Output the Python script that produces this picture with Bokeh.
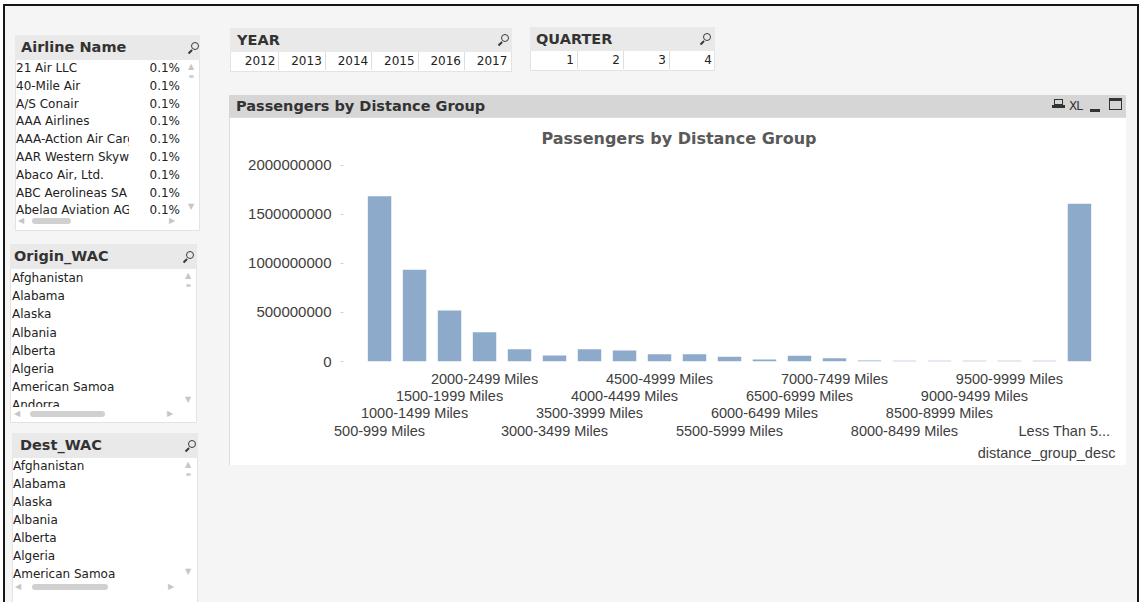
from html import escape
from bokeh.plotting import figure
from bokeh.models import (FactorRange, Range1d, CategoricalAxis, FixedTicker,
                          NumeralTickFormatter, Title, Div, ColumnDataSource)
from bokeh.layouts import row, column
from bokeh.embed import file_html
from bokeh.resources import INLINE

# ---------------- data ----------------
categories = ["500-999 Miles", "1000-1499 Miles", "1500-1999 Miles", "2000-2499 Miles",
              "2500-2999 Miles", "3000-3499 Miles", "3500-3999 Miles", "4000-4499 Miles",
              "4500-4999 Miles", "5000-5499 Miles", "5500-5999 Miles", "6000-6499 Miles",
              "6500-6999 Miles", "7000-7499 Miles", "7500-7999 Miles", "8000-8499 Miles",
              "8500-8999 Miles", "9000-9499 Miles", "9500-9999 Miles", "10000-10499 Miles",
              "Less Than 500 Miles"]
passengers = [1684000000, 936000000, 520000000, 299000000, 126000000, 61000000,
              126000000, 112000000, 75000000, 75000000, 48000000, 20000000,
              58000000, 34000000, 10000000, 8000000, 8000000, 8000000, 8000000,
              8000000, 1609000000]
# staggered label row of each category (1 = top row, 0 = label not shown)
label_rows = [4, 3, 2, 1, 0, 4, 3, 2, 1, 0, 4, 3, 2, 1, 0, 4, 3, 2, 1, 0, 4]
# truncated last label (non-breaking spaces keep it clear of the panel's right edge)
label_text = {"Less Than 500 Miles": "Less Than 5..." + "\u00a0" * 4}
y_ticks = [0, 500000000, 1000000000, 1500000000, 2000000000]

airline_names = ["21 Air LLC", "40-Mile Air", "A/S Conair", "AAA Airlines",
                 "AAA-Action Air Cargo", "AAR Western Skyways", "Abaco Air, Ltd.",
                 "ABC Aerolineas SA", "Abelag Aviation AG"]
airline_pct = ["0.1%", "0.1%", "0.1%", "0.1%", "0.1%", "0.1%", "0.1%", "0.1%", "0.1%"]
origin_names = ["Afghanistan", "Alabama", "Alaska", "Albania", "Alberta", "Algeria",
                "American Samoa", "Andorra"]
dest_names = ["Afghanistan", "Alabama", "Alaska", "Albania", "Alberta", "Algeria",
              "American Samoa"]
years = ["2012", "2013", "2014", "2015", "2016", "2017"]
quarters = ["1", "2", "3", "4"]

# ---------------- html helpers for the dashboard chrome ----------------
FONT = "'DejaVu Sans', sans-serif"
BG = "#f5f5f5"
DARK = "#161616"


def rect(x, y, w, h, style):
    return (f'<div style="position:absolute;left:{x}px;top:{y}px;width:{w}px;'
            f'height:{h}px;{style}"></div>')


def txt(x, y, w, h, s, style):
    return (f'<div style="position:absolute;left:{x}px;top:{y}px;width:{w}px;height:{h}px;'
            f'white-space:nowrap;overflow:hidden;{style};line-height:{h}px;">{escape(s)}</div>')


def magnifier(cx, cy):
    return (rect(cx - 2, cy - 6, 8, 8,
                 "border:1.7px solid #3a3a3a;border-radius:50%;box-sizing:border-box;")
            + rect(cx - 6, cy + 0.5, 5, 1.8,
                   "background:#3a3a3a;transform:rotate(-45deg);transform-origin:right center;"))


def arrow(cx, cy, ch):
    return txt(cx - 5, cy - 5, 10, 10, ch,
               f"font:8px {FONT};color:#c6c6c6;text-align:center")


def listbox(ox, oy, bx, by, bw, bh, title, tdx, icon_cx, items, pcts, row0, rh,
            list_bottom, name_x, name_w, pct_right, vs_cx, hs_cy, hs_l, th0, th1, hs_r):
    h = []
    x, y = bx - ox, by - oy
    h.append(rect(x, y, bw, bh, "background:#fff;border:1px solid #e3e3e3;box-sizing:border-box;"))
    h.append(rect(x, y, bw, 25, "background:#e9e9e9;"))
    h.append(txt(x + tdx, y, bw - 30, 25, title, f"font:bold 14.5px {FONT};color:#333"))
    h.append(magnifier(icon_cx - ox, by + 13 - oy))
    h.append(f'<div style="position:absolute;left:{x}px;top:{row0 - oy}px;width:{bw}px;'
             f'height:{list_bottom - row0}px;overflow:hidden;">')
    for i, name in enumerate(items):
        ty = round(i * rh, 2)
        h.append(txt(name_x - bx, ty, name_w, rh, name, f"font:12px {FONT};color:#222"))
        if pcts:
            h.append(txt(pct_right - bx - 40, ty, 40, rh, pcts[i],
                         f"font:12px {FONT};color:#222;text-align:right"))
    h.append('</div>')
    h.append(arrow(vs_cx - ox, row0 + 7 - oy, "\u25b2"))
    h.append(rect(vs_cx - ox - 2, row0 + 15 - oy, 5, 3, "background:#d2d2d2;border-radius:2px;"))
    h.append(arrow(vs_cx - ox, list_bottom - 7 - oy, "\u25bc"))
    h.append(arrow(hs_l - ox, hs_cy - oy, "\u25c0"))
    h.append(rect(th0 - ox, hs_cy - 3 - oy, th1 - th0, 6, "background:#d0d0d0;border-radius:3px;"))
    h.append(arrow(hs_r - ox, hs_cy - oy, "\u25b6"))
    return "".join(h)


def cellbox(ox, oy, bx, by, bw, title, tdx, icon_cx, values, c0, cw, cy0, cy1):
    h = []
    x, y = bx - ox, by - oy
    h.append(rect(x, y, bw, cy1 - by + 2, "background:#fff;border:1px solid #e3e3e3;box-sizing:border-box;"))
    h.append(rect(x, y, bw, cy0 - by, "background:#e9e9e9;"))
    h.append(txt(x + tdx, y, bw - 30, cy0 - by, title, f"font:bold 14.5px {FONT};color:#333"))
    h.append(magnifier(icon_cx - ox, by + 12 - oy))
    for i, v in enumerate(values):
        cx = c0 + i * cw
        h.append(txt(round(cx - ox, 1), cy0 - oy, round(cw - 3, 1), cy1 - cy0, v,
                     f"font:12px {FONT};color:#222;text-align:right"))
        if i < len(values) - 1:
            h.append(rect(round(cx + cw - ox, 1), cy0 - oy, 1, cy1 - cy0, "background:#dedede;"))
    return "".join(h)


def wrap(w, h, inner):
    return (f'<div style="position:relative;width:{w}px;height:{h}px;background:{BG};'
            f'overflow:hidden;">{inner}</div>')


PH = 602           # page height used
LW = 229           # left column width
RW = 1140 - LW     # right column width

# ---------------- left column: list boxes ----------------
left_html = (rect(0, 0, 3, PH, "background:#fff;") + rect(0, 0, LW, 4, "background:#fff;")
             + rect(3, 4, 2, PH, f"background:{DARK};") + rect(3, 4, LW, 2, f"background:{DARK};")
             + listbox(0, 0, 15, 35, 185, 196, "Airline Name", 6, 193, airline_names, airline_pct,
                       60, 17.8, 214, 16, 113, 180, 191, 221, 21, 32, 71, 172)
             + listbox(0, 0, 10, 244, 187, 179, "Origin_WAC", 4, 188, origin_names, None,
                       269.3, 18.1, 407, 12, 160, 0, 188, 414, 17, 30, 105, 170)
             + listbox(0, 0, 12, 433, 186, 170, "Dest_WAC", 8, 190, dest_names, None,
                       458.3, 17.95, 579, 13, 160, 0, 188, 587, 18, 32, 108, 171))
L = Div(text=wrap(LW, PH, left_html), width=LW, height=PH, margin=0)

# ---------------- top strip: YEAR / QUARTER ----------------
TH = 95
top_html = (rect(0, 0, RW, 4, "background:#fff;") + rect(0, 4, RW - 3, 2, f"background:{DARK};")
            + rect(RW - 3, 4, 2, TH, f"background:{DARK};") + rect(RW - 1, 0, 1, TH, "background:#fff;")
            + cellbox(LW, 0, 230, 28, 282, "YEAR", 7, 503, years, 232, 46.4, 52, 70)
            + cellbox(LW, 0, 530, 27, 185, "QUARTER", 6, 705, quarters, 531, 46, 51, 69))
T = Div(text=wrap(RW, TH, top_html), width=RW, height=TH, margin=0)

# ---------------- chart panel caption bar ----------------
head_html = (f'<div style="position:relative;width:897px;height:22px;background:#d6d6d6;overflow:hidden;">'
             + txt(7, 0, 500, 22, "Passengers by Distance Group", f"font:bold 14.5px {FONT};color:#333")
             + rect(825, 4, 9, 6, "border:1.4px solid #333;box-sizing:border-box;")
             + rect(823, 10, 13, 3, "background:#333;")
             + txt(840, 0, 16, 22, "XL", f"font:12px {FONT};color:#333;letter-spacing:-1px")
             + rect(861, 14, 10, 3, "background:#333;")
             + rect(880, 3, 13, 12, "border:1.4px solid #333;border-top:3px solid #333;box-sizing:border-box;")
             + '</div>')
H = Div(text=head_html, width=897, height=22, margin=0)

# ---------------- bar chart ----------------
PAD = 0.53
src = ColumnDataSource(dict(cat=categories, val=passengers))
p = figure(x_range=FactorRange(factors=categories, range_padding=PAD, range_padding_units="absolute"),
           y_range=Range1d(0, 2.1e9), width=897, height=348,
           output_backend="svg", toolbar_location=None, x_axis_location=None,
           min_border_left=114, min_border_right=11, min_border_top=38, min_border_bottom=104,
           background_fill_color="white", border_fill_color="white", outline_line_color=None,
           margin=0, styles={"outline": "1px solid #d2d2d2", "outline-offset": "-1px"})
p.vbar(x="cat", top="val", width=0.67, source=src, fill_color="#8eaacb", line_color=None)

p.title.text = "Passengers by Distance Group"
p.title.align = "left"
p.title.offset = 198
p.title.standoff = 15
p.title.text_font = "DejaVu Sans"
p.title.text_font_size = "16px"
p.title.text_font_style = "bold"
p.title.text_color = "#595959"

p.xgrid.visible = False
p.ygrid.visible = False

ya = p.yaxis[0]
ya.ticker = FixedTicker(ticks=y_ticks)
ya.formatter = NumeralTickFormatter(format="0")
ya.axis_line_color = None
ya.major_tick_in = 0
ya.major_tick_out = 3
ya.major_tick_line_color = "#d0d0d0"
ya.minor_tick_line_color = None
ya.major_label_standoff = 9
ya.major_label_text_font = "Liberation Sans"
ya.major_label_text_font_size = "15px"
ya.major_label_text_color = "#404040"

# staggered category labels: one axis per label row, each on a factor range whose
# factors are the shown labels (blank placeholders where that row shows nothing)
for r, standoff in [(1, 9), (2, -2), (3, -2), (4, -1)]:
    facs = [label_text.get(c, c) if lr == r else " " * (i + 1)
            for i, (c, lr) in enumerate(zip(categories, label_rows))]
    name = f"row{r}"
    p.extra_x_ranges[name] = FactorRange(factors=facs, range_padding=PAD,
                                         range_padding_units="absolute")
    ax = CategoricalAxis(x_range_name=name, axis_line_color=None,
                         major_tick_line_color=None, major_tick_in=0, major_tick_out=0,
                         major_label_standoff=standoff, major_label_text_font="Liberation Sans",
                         major_label_text_font_size="14.5px", major_label_text_color="#404040")
    p.add_layout(ax, "below")

p.add_layout(Title(text="distance_group_desc", align="right", standoff=3,
                   text_font="Liberation Sans", text_font_size="14.5px",
                   text_font_style="normal", text_color="#404040"), "below")

# ---------------- right strip and bottom filler ----------------
SW = RW - 897
S = Div(text=wrap(SW, 370, rect(SW - 3, 0, 2, 370, f"background:{DARK};")
                  + rect(SW - 1, 0, 1, 370, "background:#fff;")),
        width=SW, height=370, margin=0)
BH = PH - TH - 370
B = Div(text=wrap(RW, BH, rect(RW - 3, 0, 2, BH, f"background:{DARK};")
                  + rect(RW - 1, 0, 1, BH, "background:#fff;")),
        width=RW, height=BH, margin=0)

chart_panel = column(H, p, margin=0, spacing=0)
right = column(T, row(chart_panel, S, margin=0, spacing=0), B, margin=0, spacing=0)
root = row(L, right, margin=0, spacing=0)

open("out.html", "w").write(file_html(root, INLINE))
